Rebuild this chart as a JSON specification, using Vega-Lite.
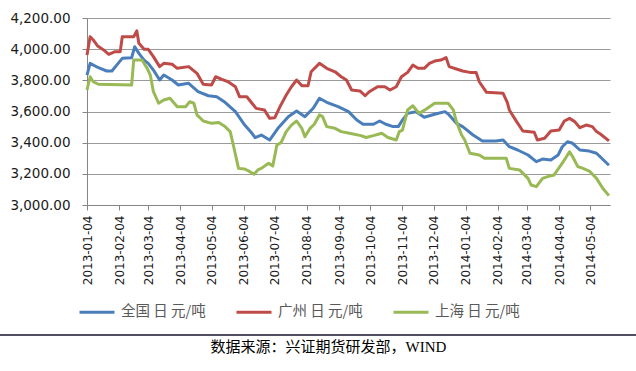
{
"$schema": "https://vega.github.io/schema/vega-lite/v6.json",
"width": 523, "height": 187,
"autosize": {"type": "none"},
"padding": {"left": 87, "top": 18, "right": 26, "bottom": 166},
"background": "white",
"config": {"view": {"stroke": null}, "font": "DejaVu Sans"},
"title": {"text": "数据来源：兴证期货研发部，WIND", "orient": "bottom", "anchor": "middle", "frame": "group", "font": "Liberation Serif, Noto Sans CJK SC", "fontSize": 15, "fontWeight": "normal", "color": "black", "offset": 4, "dx": -20},
"datasets": {
"prices": [
{"date":"2013-01-04","series":"全国 日 元/吨","price":3834},
{"date":"2013-01-07","series":"全国 日 元/吨","price":3909},
{"date":"2013-01-15","series":"全国 日 元/吨","price":3881},
{"date":"2013-01-23","series":"全国 日 元/吨","price":3860},
{"date":"2013-01-28","series":"全国 日 元/吨","price":3860},
{"date":"2013-02-03","series":"全国 日 元/吨","price":3909},
{"date":"2013-02-07","series":"全国 日 元/吨","price":3941},
{"date":"2013-02-16","series":"全国 日 元/吨","price":3945},
{"date":"2013-02-19","series":"全国 日 元/吨","price":4016},
{"date":"2013-02-23","series":"全国 日 元/吨","price":3973},
{"date":"2013-02-28","series":"全国 日 元/吨","price":3930},
{"date":"2013-03-04","series":"全国 日 元/吨","price":3909},
{"date":"2013-03-09","series":"全国 日 元/吨","price":3866},
{"date":"2013-03-15","series":"全国 日 元/吨","price":3802},
{"date":"2013-03-19","series":"全国 日 元/吨","price":3834},
{"date":"2013-03-27","series":"全国 日 元/吨","price":3802},
{"date":"2013-04-02","series":"全国 日 元/吨","price":3770},
{"date":"2013-04-12","series":"全国 日 元/吨","price":3781},
{"date":"2013-04-21","series":"全国 日 元/吨","price":3727},
{"date":"2013-05-01","series":"全国 日 元/吨","price":3701},
{"date":"2013-05-09","series":"全国 日 元/吨","price":3695},
{"date":"2013-05-17","series":"全国 日 元/吨","price":3659},
{"date":"2013-05-27","series":"全国 日 元/吨","price":3599},
{"date":"2013-06-05","series":"全国 日 元/吨","price":3513},
{"date":"2013-06-12","series":"全国 日 元/吨","price":3460},
{"date":"2013-06-15","series":"全国 日 元/吨","price":3432},
{"date":"2013-06-21","series":"全国 日 元/吨","price":3449},
{"date":"2013-06-29","series":"全国 日 元/吨","price":3417},
{"date":"2013-07-07","series":"全国 日 元/吨","price":3492},
{"date":"2013-07-17","series":"全国 日 元/吨","price":3567},
{"date":"2013-07-25","series":"全国 日 元/吨","price":3603},
{"date":"2013-08-02","series":"全国 日 元/吨","price":3567},
{"date":"2013-08-10","series":"全国 日 元/吨","price":3621},
{"date":"2013-08-16","series":"全国 日 元/吨","price":3685},
{"date":"2013-08-23","series":"全国 日 元/吨","price":3659},
{"date":"2013-09-03","series":"全国 日 元/吨","price":3631},
{"date":"2013-09-13","series":"全国 日 元/吨","price":3599},
{"date":"2013-09-21","series":"全国 日 元/吨","price":3545},
{"date":"2013-09-27","series":"全国 日 元/吨","price":3518},
{"date":"2013-10-07","series":"全国 日 元/吨","price":3518},
{"date":"2013-10-13","series":"全国 日 元/吨","price":3539},
{"date":"2013-10-19","series":"全国 日 元/吨","price":3518},
{"date":"2013-10-26","series":"全国 日 元/吨","price":3503},
{"date":"2013-10-31","series":"全国 日 元/吨","price":3503},
{"date":"2013-11-04","series":"全国 日 元/吨","price":3545},
{"date":"2013-11-09","series":"全国 日 元/吨","price":3588},
{"date":"2013-11-17","series":"全国 日 元/吨","price":3599},
{"date":"2013-11-25","series":"全国 日 元/吨","price":3563},
{"date":"2013-12-05","series":"全国 日 元/吨","price":3582},
{"date":"2013-12-15","series":"全国 日 元/吨","price":3599},
{"date":"2013-12-19","series":"全国 日 元/吨","price":3578},
{"date":"2013-12-26","series":"全国 日 元/吨","price":3524},
{"date":"2014-01-01","series":"全国 日 元/吨","price":3503},
{"date":"2014-01-11","series":"全国 日 元/吨","price":3449},
{"date":"2014-01-20","series":"全国 日 元/吨","price":3411},
{"date":"2014-02-02","series":"全国 日 元/吨","price":3411},
{"date":"2014-02-09","series":"全国 日 元/吨","price":3417},
{"date":"2014-02-15","series":"全国 日 元/吨","price":3374},
{"date":"2014-02-23","series":"全国 日 元/吨","price":3353},
{"date":"2014-03-05","series":"全国 日 元/吨","price":3321},
{"date":"2014-03-13","series":"全国 日 元/吨","price":3278},
{"date":"2014-03-19","series":"全国 日 元/吨","price":3295},
{"date":"2014-03-27","series":"全国 日 元/吨","price":3289},
{"date":"2014-04-03","series":"全国 日 元/吨","price":3321},
{"date":"2014-04-07","series":"全国 日 元/吨","price":3374},
{"date":"2014-04-12","series":"全国 日 元/吨","price":3406},
{"date":"2014-04-17","series":"全国 日 元/吨","price":3396},
{"date":"2014-04-24","series":"全国 日 元/吨","price":3353},
{"date":"2014-05-03","series":"全国 日 元/吨","price":3346},
{"date":"2014-05-10","series":"全国 日 元/吨","price":3332},
{"date":"2014-05-22","series":"全国 日 元/吨","price":3255},
{"date":"2013-01-04","series":"广州 日 元/吨","price":3963},
{"date":"2013-01-07","series":"广州 日 元/吨","price":4080},
{"date":"2013-01-10","series":"广州 日 元/吨","price":4059},
{"date":"2013-01-14","series":"广州 日 元/吨","price":4022},
{"date":"2013-01-20","series":"广州 日 元/吨","price":3995},
{"date":"2013-01-25","series":"广州 日 元/吨","price":3967},
{"date":"2013-01-31","series":"广州 日 元/吨","price":3984},
{"date":"2013-02-05","series":"广州 日 元/吨","price":3984},
{"date":"2013-02-07","series":"广州 日 元/吨","price":4080},
{"date":"2013-02-18","series":"广州 日 元/吨","price":4080},
{"date":"2013-02-21","series":"广州 日 元/吨","price":4117},
{"date":"2013-02-23","series":"广州 日 元/吨","price":4038},
{"date":"2013-02-28","series":"广州 日 元/吨","price":3999},
{"date":"2013-03-04","series":"广州 日 元/吨","price":3999},
{"date":"2013-03-09","series":"广州 日 元/吨","price":3952},
{"date":"2013-03-15","series":"广州 日 元/吨","price":3888},
{"date":"2013-03-19","series":"广州 日 元/吨","price":3909},
{"date":"2013-03-27","series":"广州 日 元/吨","price":3903},
{"date":"2013-04-01","series":"广州 日 元/吨","price":3877},
{"date":"2013-04-12","series":"广州 日 元/吨","price":3888},
{"date":"2013-04-20","series":"广州 日 元/吨","price":3845},
{"date":"2013-04-26","series":"广州 日 元/吨","price":3775},
{"date":"2013-05-04","series":"广州 日 元/吨","price":3770},
{"date":"2013-05-08","series":"广州 日 元/吨","price":3823},
{"date":"2013-05-14","series":"广州 日 元/吨","price":3806},
{"date":"2013-05-20","series":"广州 日 元/吨","price":3791},
{"date":"2013-05-27","series":"广州 日 元/吨","price":3759},
{"date":"2013-05-31","series":"广州 日 元/吨","price":3695},
{"date":"2013-06-07","series":"广州 日 元/吨","price":3695},
{"date":"2013-06-12","series":"广州 日 元/吨","price":3653},
{"date":"2013-06-16","series":"广州 日 元/吨","price":3620},
{"date":"2013-06-24","series":"广州 日 元/吨","price":3610},
{"date":"2013-06-29","series":"广州 日 元/吨","price":3556},
{"date":"2013-07-04","series":"广州 日 元/吨","price":3560},
{"date":"2013-07-09","series":"广州 日 元/吨","price":3631},
{"date":"2013-07-15","series":"广州 日 元/吨","price":3706},
{"date":"2013-07-20","series":"广州 日 元/吨","price":3759},
{"date":"2013-07-25","series":"广州 日 元/吨","price":3802},
{"date":"2013-07-30","series":"广州 日 元/吨","price":3766},
{"date":"2013-08-05","series":"广州 日 元/吨","price":3766},
{"date":"2013-08-08","series":"广州 日 元/吨","price":3855},
{"date":"2013-08-16","series":"广州 日 元/吨","price":3909},
{"date":"2013-08-23","series":"广州 日 元/吨","price":3877},
{"date":"2013-08-31","series":"广州 日 元/吨","price":3855},
{"date":"2013-09-06","series":"广州 日 元/吨","price":3823},
{"date":"2013-09-11","series":"广州 日 元/吨","price":3802},
{"date":"2013-09-16","series":"广州 日 元/吨","price":3738},
{"date":"2013-09-24","series":"广州 日 元/吨","price":3732},
{"date":"2013-09-29","series":"广州 日 元/吨","price":3701},
{"date":"2013-10-03","series":"广州 日 元/吨","price":3727},
{"date":"2013-10-11","series":"广州 日 元/吨","price":3759},
{"date":"2013-10-18","series":"广州 日 元/吨","price":3759},
{"date":"2013-10-23","series":"广州 日 元/吨","price":3738},
{"date":"2013-10-29","series":"广州 日 元/吨","price":3759},
{"date":"2013-11-03","series":"广州 日 元/吨","price":3823},
{"date":"2013-11-09","series":"广州 日 元/吨","price":3851},
{"date":"2013-11-14","series":"广州 日 元/吨","price":3898},
{"date":"2013-11-19","series":"广州 日 元/吨","price":3877},
{"date":"2013-11-25","series":"广州 日 元/吨","price":3877},
{"date":"2013-11-30","series":"广州 日 元/吨","price":3909},
{"date":"2013-12-05","series":"广州 日 元/吨","price":3924},
{"date":"2013-12-11","series":"广州 日 元/吨","price":3930},
{"date":"2013-12-16","series":"广州 日 元/吨","price":3946},
{"date":"2013-12-19","series":"广州 日 元/吨","price":3888},
{"date":"2013-12-26","series":"广州 日 元/吨","price":3873},
{"date":"2014-01-01","series":"广州 日 元/吨","price":3860},
{"date":"2014-01-08","series":"广州 日 元/吨","price":3851},
{"date":"2014-01-14","series":"广州 日 元/吨","price":3851},
{"date":"2014-01-17","series":"广州 日 元/吨","price":3791},
{"date":"2014-01-24","series":"广州 日 元/吨","price":3723},
{"date":"2014-02-09","series":"广州 日 元/吨","price":3717},
{"date":"2014-02-13","series":"广州 日 元/吨","price":3659},
{"date":"2014-02-15","series":"广州 日 元/吨","price":3610},
{"date":"2014-02-22","series":"广州 日 元/吨","price":3535},
{"date":"2014-02-28","series":"广州 日 元/吨","price":3475},
{"date":"2014-03-11","series":"广州 日 元/吨","price":3467},
{"date":"2014-03-14","series":"广州 日 元/吨","price":3417},
{"date":"2014-03-21","series":"广州 日 元/吨","price":3428},
{"date":"2014-03-27","series":"广州 日 元/吨","price":3475},
{"date":"2014-04-04","series":"广州 日 元/吨","price":3481},
{"date":"2014-04-09","series":"广州 日 元/吨","price":3539},
{"date":"2014-04-14","series":"广州 日 元/吨","price":3556},
{"date":"2014-04-19","series":"广州 日 元/吨","price":3535},
{"date":"2014-04-24","series":"广州 日 元/吨","price":3496},
{"date":"2014-04-30","series":"广州 日 元/吨","price":3513},
{"date":"2014-05-06","series":"广州 日 元/吨","price":3503},
{"date":"2014-05-10","series":"广州 日 元/吨","price":3471},
{"date":"2014-05-14","series":"广州 日 元/吨","price":3454},
{"date":"2014-05-22","series":"广州 日 元/吨","price":3411},
{"date":"2013-01-04","series":"上海 日 元/吨","price":3738},
{"date":"2013-01-07","series":"上海 日 元/吨","price":3823},
{"date":"2013-01-10","series":"上海 日 元/吨","price":3791},
{"date":"2013-01-15","series":"上海 日 元/吨","price":3775},
{"date":"2013-02-16","series":"上海 日 元/吨","price":3770},
{"date":"2013-02-18","series":"上海 日 元/吨","price":3930},
{"date":"2013-02-26","series":"上海 日 元/吨","price":3930},
{"date":"2013-03-03","series":"上海 日 元/吨","price":3877},
{"date":"2013-03-06","series":"上海 日 元/吨","price":3834},
{"date":"2013-03-09","series":"上海 日 元/吨","price":3727},
{"date":"2013-03-14","series":"上海 日 元/吨","price":3653},
{"date":"2013-03-19","series":"上海 日 元/吨","price":3674},
{"date":"2013-03-25","series":"上海 日 元/吨","price":3685},
{"date":"2013-04-01","series":"上海 日 元/吨","price":3631},
{"date":"2013-04-09","series":"上海 日 元/吨","price":3631},
{"date":"2013-04-13","series":"上海 日 元/吨","price":3663},
{"date":"2013-04-17","series":"上海 日 元/吨","price":3653},
{"date":"2013-04-20","series":"上海 日 元/吨","price":3578},
{"date":"2013-04-26","series":"上海 日 元/吨","price":3539},
{"date":"2013-05-04","series":"上海 日 元/吨","price":3524},
{"date":"2013-05-11","series":"上海 日 元/吨","price":3529},
{"date":"2013-05-17","series":"上海 日 元/吨","price":3503},
{"date":"2013-05-22","series":"上海 日 元/吨","price":3471},
{"date":"2013-05-25","series":"上海 日 元/吨","price":3385},
{"date":"2013-05-30","series":"上海 日 元/吨","price":3235},
{"date":"2013-06-05","series":"上海 日 元/吨","price":3231},
{"date":"2013-06-10","series":"上海 日 元/吨","price":3214},
{"date":"2013-06-14","series":"上海 日 元/吨","price":3197},
{"date":"2013-06-18","series":"上海 日 元/吨","price":3227},
{"date":"2013-06-21","series":"上海 日 元/吨","price":3235},
{"date":"2013-06-28","series":"上海 日 元/吨","price":3268},
{"date":"2013-07-02","series":"上海 日 元/吨","price":3250},
{"date":"2013-07-06","series":"上海 日 元/吨","price":3385},
{"date":"2013-07-10","series":"上海 日 元/吨","price":3400},
{"date":"2013-07-15","series":"上海 日 元/吨","price":3471},
{"date":"2013-07-20","series":"上海 日 元/吨","price":3513},
{"date":"2013-07-25","series":"上海 日 元/吨","price":3539},
{"date":"2013-07-30","series":"上海 日 元/吨","price":3492},
{"date":"2013-08-02","series":"上海 日 元/吨","price":3438},
{"date":"2013-08-07","series":"上海 日 元/吨","price":3492},
{"date":"2013-08-11","series":"上海 日 元/吨","price":3518},
{"date":"2013-08-16","series":"上海 日 元/吨","price":3578},
{"date":"2013-08-19","series":"上海 日 元/吨","price":3567},
{"date":"2013-08-23","series":"上海 日 元/吨","price":3503},
{"date":"2013-08-31","series":"上海 日 元/吨","price":3492},
{"date":"2013-09-06","series":"上海 日 元/吨","price":3471},
{"date":"2013-09-14","series":"上海 日 元/吨","price":3460},
{"date":"2013-09-25","series":"上海 日 元/吨","price":3445},
{"date":"2013-09-30","series":"上海 日 元/吨","price":3433},
{"date":"2013-10-07","series":"上海 日 元/吨","price":3445},
{"date":"2013-10-15","series":"上海 日 元/吨","price":3460},
{"date":"2013-10-21","series":"上海 日 元/吨","price":3433},
{"date":"2013-10-29","series":"上海 日 元/吨","price":3417},
{"date":"2013-11-01","series":"上海 日 元/吨","price":3471},
{"date":"2013-11-04","series":"上海 日 元/吨","price":3481},
{"date":"2013-11-09","series":"上海 日 元/吨","price":3610},
{"date":"2013-11-14","series":"上海 日 元/吨","price":3637},
{"date":"2013-11-20","series":"上海 日 元/吨","price":3588},
{"date":"2013-11-27","series":"上海 日 元/吨","price":3616},
{"date":"2013-12-05","series":"上海 日 元/吨","price":3653},
{"date":"2013-12-18","series":"上海 日 元/吨","price":3653},
{"date":"2013-12-23","series":"上海 日 元/吨","price":3610},
{"date":"2013-12-26","series":"上海 日 元/吨","price":3535},
{"date":"2013-12-31","series":"上海 日 元/吨","price":3449},
{"date":"2014-01-03","series":"上海 日 元/吨","price":3417},
{"date":"2014-01-08","series":"上海 日 元/吨","price":3332},
{"date":"2014-01-17","series":"上海 日 元/吨","price":3321},
{"date":"2014-01-22","series":"上海 日 元/吨","price":3300},
{"date":"2014-02-12","series":"上海 日 元/吨","price":3300},
{"date":"2014-02-15","series":"上海 日 元/吨","price":3235},
{"date":"2014-02-25","series":"上海 日 元/吨","price":3224},
{"date":"2014-03-05","series":"上海 日 元/吨","price":3171},
{"date":"2014-03-08","series":"上海 日 元/吨","price":3128},
{"date":"2014-03-13","series":"上海 日 元/吨","price":3118},
{"date":"2014-03-19","series":"上海 日 元/吨","price":3171},
{"date":"2014-03-24","series":"上海 日 元/吨","price":3182},
{"date":"2014-03-30","series":"上海 日 元/吨","price":3192},
{"date":"2014-04-03","series":"上海 日 元/吨","price":3231},
{"date":"2014-04-07","series":"上海 日 元/吨","price":3268},
{"date":"2014-04-11","series":"上海 日 元/吨","price":3310},
{"date":"2014-04-14","series":"上海 日 元/吨","price":3342},
{"date":"2014-04-17","series":"上海 日 元/吨","price":3310},
{"date":"2014-04-22","series":"上海 日 元/吨","price":3246},
{"date":"2014-04-27","series":"上海 日 元/吨","price":3235},
{"date":"2014-05-03","series":"上海 日 元/吨","price":3218},
{"date":"2014-05-10","series":"上海 日 元/吨","price":3171},
{"date":"2014-05-16","series":"上海 日 元/吨","price":3107},
{"date":"2014-05-22","series":"上海 日 元/吨","price":3060}
],
"footer": [{"note": "source"}]
},
"layer": [
{
"data": {"name": "prices"},
"mark": {"type": "line", "strokeWidth": 3, "strokeJoin": "round"},
"encoding": {
"x": {"field": "date", "type": "temporal",
"scale": {"type": "utc", "domain": [{"year": 2013, "month": 1, "date": 4, "utc": true}, {"year": 2014, "month": 5, "date": 23, "utc": true}]},
"axis": {"title": null, "format": "%Y-%m-%d", "tickCount": 40, "labelAngle": -90, "labelFlush": false, "labelOverlap": false, "labelFontSize": 12, "labelFont": "DejaVu Sans", "labelColor": "#1a1a1a", "tickSize": 5, "labelPadding": 5, "domainColor": "#868686", "tickColor": "#868686", "grid": false,
"values": [
{"year":2013,"month":1,"date":4,"utc":true},{"year":2013,"month":2,"date":4,"utc":true},{"year":2013,"month":3,"date":4,"utc":true},{"year":2013,"month":4,"date":4,"utc":true},{"year":2013,"month":5,"date":4,"utc":true},{"year":2013,"month":6,"date":4,"utc":true},{"year":2013,"month":7,"date":4,"utc":true},{"year":2013,"month":8,"date":4,"utc":true},{"year":2013,"month":9,"date":4,"utc":true},{"year":2013,"month":10,"date":4,"utc":true},{"year":2013,"month":11,"date":4,"utc":true},{"year":2013,"month":12,"date":4,"utc":true},{"year":2014,"month":1,"date":4,"utc":true},{"year":2014,"month":2,"date":4,"utc":true},{"year":2014,"month":3,"date":4,"utc":true},{"year":2014,"month":4,"date":4,"utc":true},{"year":2014,"month":5,"date":4,"utc":true}]}},
"y": {"field": "price", "type": "quantitative",
"scale": {"domain": [3000, 4200], "nice": false, "zero": false},
"axis": {"title": null, "values": [3000,3200,3400,3600,3800,4000,4200], "tickCount": 20, "labelOverlap": false, "format": ",.2f", "labelFontSize": 13.5, "labelFont": "DejaVu Sans", "labelColor": "#1a1a1a", "tickSize": 5, "labelPadding": 12, "grid": true, "gridColor": "#9a9a9a", "domainColor": "#868686", "tickColor": "#868686"}},
"color": {"field": "series", "type": "nominal",
"scale": {"domain": ["全国 日 元/吨", "广州 日 元/吨", "上海 日 元/吨"], "range": ["#4A7EBB", "#BE4B48", "#98B954"]},
"legend": {"title": null, "orient": "none", "legendX": -9, "legendY": 275, "direction": "horizontal", "symbolType": "stroke", "symbolSize": 1225, "symbolStrokeWidth": 3, "labelFont": "Noto Sans CJK SC", "labelFontSize": 14.5, "labelColor": "#595959", "labelOffset": 5, "columnPadding": 24, "padding": 0, "labelLimit": 200}}
}
},
{
"data": {"name": "footer"},
"mark": {"type": "rule", "color": "#15152a", "strokeWidth": 1.5},
"encoding": {
"x": {"datum": {"year": 2012, "month": 10, "date": 10, "utc": true}, "type": "temporal"},
"x2": {"datum": {"year": 2014, "month": 6, "date": 18, "utc": true}},
"y": {"datum": 2165, "type": "quantitative"}
}
}
]
}
